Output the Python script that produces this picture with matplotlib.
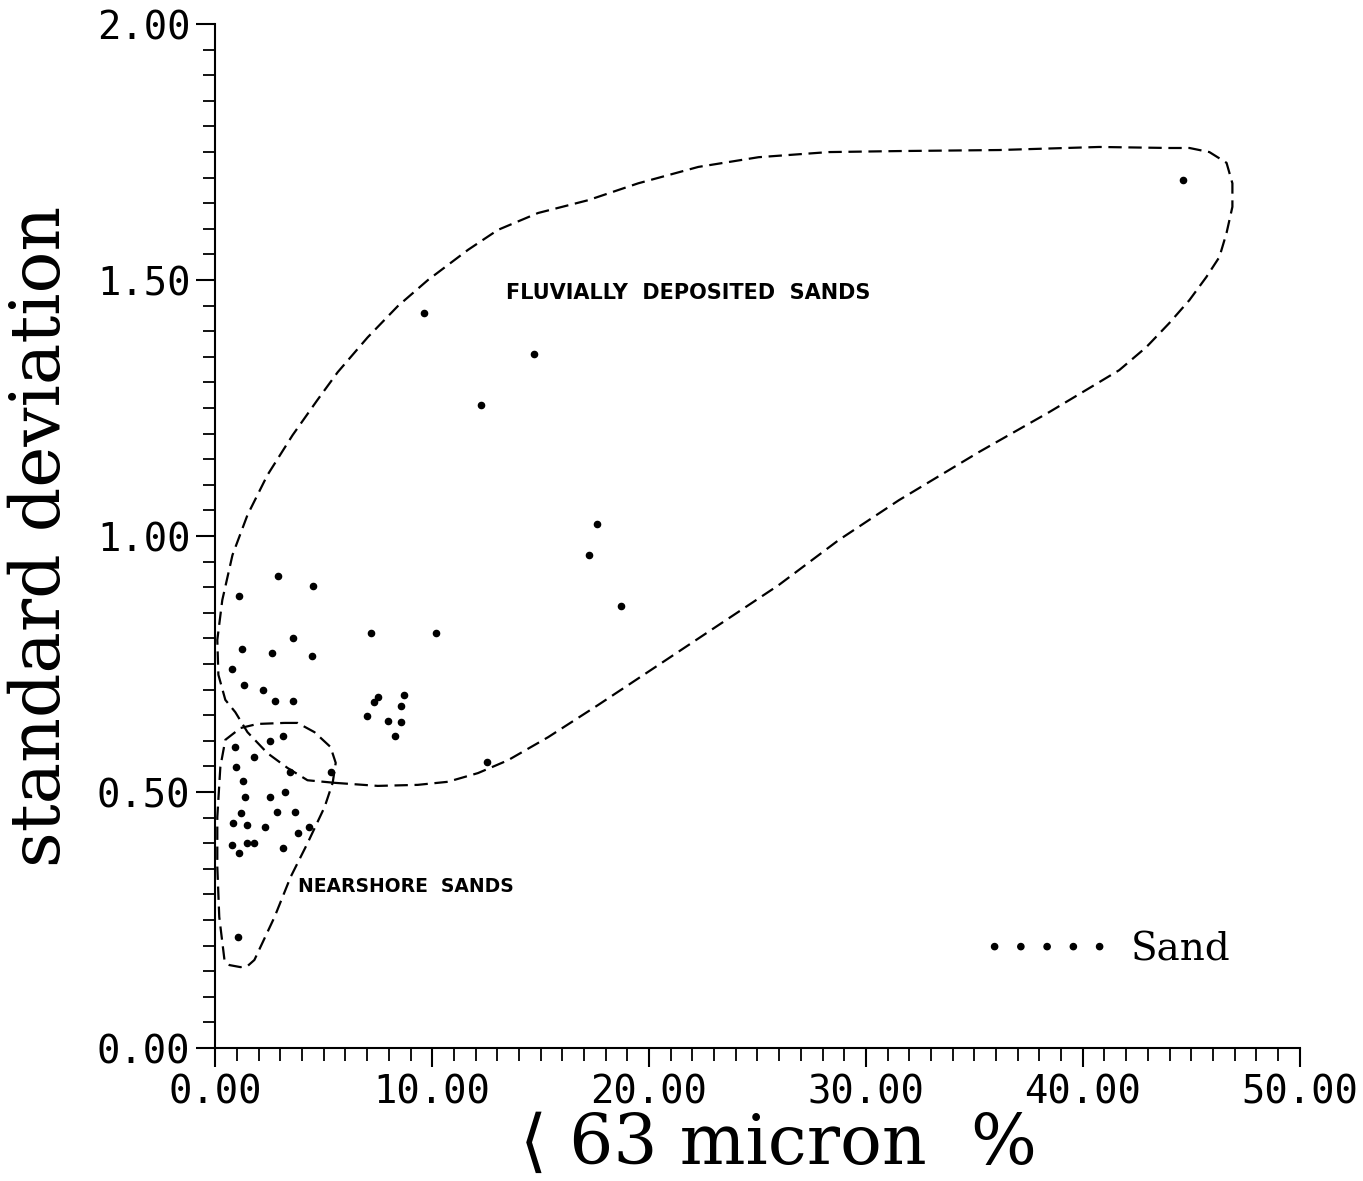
import matplotlib.pyplot as plt
from matplotlib.ticker import MultipleLocator, FormatStrFormatter

# sample values
fines_pct = [2.91, 4.48, 1.11, 7.16, 10.17, 3.60, 1.25, 2.60, 4.44, 0.79,
             1.34, 2.22, 2.77, 3.60, 7.49, 7.33, 8.69, 8.55, 6.98, 7.95,
             8.55, 8.27, 0.92, 2.54, 3.14, 1.76, 0.97, 3.42, 5.31, 1.29,
             1.39, 2.50, 3.23, 1.16, 2.82, 3.65, 0.83, 1.48, 2.31, 4.34,
             3.79, 0.79, 1.48, 1.80, 1.11, 3.10, 1.06, 12.52, 9.61, 14.70,
             12.25, 17.60, 17.24, 18.70, 44.60]
std_dev = [0.922, 0.902, 0.883, 0.811, 0.811, 0.800, 0.779, 0.771, 0.766, 0.740,
           0.709, 0.699, 0.678, 0.678, 0.686, 0.676, 0.690, 0.668, 0.648, 0.639,
           0.637, 0.609, 0.588, 0.600, 0.609, 0.568, 0.549, 0.539, 0.539, 0.522,
           0.490, 0.490, 0.500, 0.459, 0.461, 0.461, 0.439, 0.436, 0.432, 0.432,
           0.420, 0.396, 0.400, 0.400, 0.381, 0.391, 0.217, 0.559, 1.436, 1.355,
           1.256, 1.023, 0.963, 0.863, 1.695]

# hand drawn envelopes
fluvial_x = [5.50, 7.49, 9.33, 10.72, 12.11, 13.49, 15.34, 17.65, 20.43, 23.20,
             25.97, 28.74, 31.52, 35.21, 38.45, 41.68, 42.93, 43.99, 44.92, 45.70,
             46.30, 46.63, 46.90, 46.90, 46.63, 45.84, 44.92, 43.99, 40.76, 36.14,
             31.52, 28.28, 25.05, 22.27, 19.50, 17.19, 14.88, 13.03, 11.65, 9.80,
             8.41, 7.02, 5.64, 4.71, 3.56, 2.40, 1.48, 0.79, 0.32, 0.09,
             0.14, 0.46, 0.92, 1.48, 2.40, 3.33, 4.25, 5.50]
fluvial_y = [0.518, 0.512, 0.514, 0.520, 0.537, 0.562, 0.607, 0.670, 0.748, 0.826,
             0.904, 0.992, 1.070, 1.164, 1.242, 1.324, 1.369, 1.416, 1.461, 1.506,
             1.545, 1.592, 1.643, 1.689, 1.729, 1.750, 1.758, 1.758, 1.760, 1.754,
             1.752, 1.750, 1.740, 1.721, 1.689, 1.656, 1.631, 1.598, 1.559, 1.500,
             1.449, 1.388, 1.320, 1.266, 1.197, 1.119, 1.041, 0.963, 0.875, 0.797,
             0.729, 0.680, 0.656, 0.617, 0.576, 0.547, 0.523, 0.518]

nearshore_x = [3.19, 3.79, 4.57, 5.31, 5.55, 5.41, 5.04, 4.25, 3.47, 2.73,
               1.80, 1.48, 1.16, 0.65, 0.42, 0.18, 0.09, 0.09, 0.23, 0.46,
               1.16, 1.94, 3.19]
nearshore_y = [0.635, 0.635, 0.617, 0.588, 0.557, 0.518, 0.471, 0.400, 0.334, 0.256,
               0.172, 0.160, 0.158, 0.162, 0.172, 0.256, 0.354, 0.451, 0.549, 0.602,
               0.625, 0.633, 0.635]

fig = plt.figure(figsize=(13.63, 11.81), dpi=100)
ax = fig.add_axes([0.158, 0.1126, 0.7955, 0.867])

dash = (0, (6, 3))
ax.plot(fluvial_x, fluvial_y, color='black', lw=1.6, linestyle=dash)
ax.plot(nearshore_x, nearshore_y, color='black', lw=1.6, linestyle=dash)

ax.scatter(fines_pct, std_dev, s=20, color='black', marker='o', label='Sand', zorder=3)

ax.text(13.4, 1.475, 'FLUVIALLY  DEPOSITED  SANDS', fontsize=15, fontweight='bold',
        family='DejaVu Sans', va='center', ha='left')
ax.text(3.8, 0.316, 'NEARSHORE  SANDS', fontsize=13.5, fontweight='bold',
        family='DejaVu Sans', va='center', ha='left')

ax.set_xlim(0, 50)
ax.set_ylim(0, 2)
ax.spines['top'].set_visible(False)
ax.spines['right'].set_visible(False)
ax.spines['left'].set_linewidth(1.5)
ax.spines['bottom'].set_linewidth(1.5)

ax.xaxis.set_major_locator(MultipleLocator(10))
ax.xaxis.set_minor_locator(MultipleLocator(1))
ax.yaxis.set_major_locator(MultipleLocator(0.5))
ax.yaxis.set_minor_locator(MultipleLocator(0.05))
ax.xaxis.set_major_formatter(FormatStrFormatter('%.2f'))
ax.yaxis.set_major_formatter(FormatStrFormatter('%.2f'))
ax.tick_params(which='major', length=14, width=1.5, direction='out', pad=4)
ax.tick_params(which='minor', length=9, width=1.3, direction='out')
for lab in ax.get_xticklabels() + ax.get_yticklabels():
    lab.set_family('DejaVu Sans Mono')
    lab.set_fontsize(28)

ax.set_xlabel('\u27e8 63 micron  %', fontsize=50, family=['DejaVu Serif', 'DejaVu Sans'])
ax.xaxis.set_label_coords(0.519, -0.062)
ax.set_ylabel('standard deviation', fontsize=50, family='DejaVu Serif')
ax.yaxis.set_label_coords(-0.13, 0.5)

ax.legend(loc='center left', bbox_to_anchor=(0.69, 0.096), frameon=False,
          scatterpoints=5, scatteryoffsets=[0.5], handlelength=3.3, handletextpad=0.5,
          borderpad=0, prop={'family': 'DejaVu Serif', 'size': 28})

fig.savefig('out.png', dpi=100)
